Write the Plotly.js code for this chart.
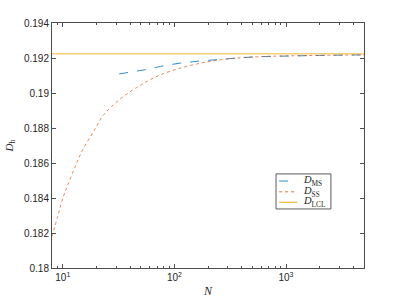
<!DOCTYPE html>
<html>
<head>
<meta charset="utf-8">
<script src="https://cdn.plot.ly/plotly-3.0.1.min.js"></script>
<style>html,body{margin:0;padding:0;background:#fff;}#chart{width:402px;height:301px;}</style>
</head>
<body>
<div id="chart"></div>
<script>
// Data
const N_SS = [8, 9, 10, 11, 13, 15, 19, 23, 30, 40, 50, 60, 75, 110, 170, 250, 400, 600, 1000, 2000, 5000];
const D_SS = [0.1818, 0.18295, 0.18398, 0.18470, 0.18583, 0.18673, 0.18783, 0.18872, 0.18946, 0.19007, 0.19045, 0.19075, 0.19104, 0.19140, 0.19170, 0.19188, 0.19202, 0.19208, 0.19212, 0.19215, 0.19218];
const N_MS = [32, 40, 50, 60, 75, 110, 170, 250, 400, 600, 1000, 2000, 5000];
const D_MS = [0.19109, 0.19118, 0.19127, 0.19137, 0.19152, 0.19170, 0.19183, 0.19193, 0.19202, 0.19208, 0.19212, 0.19215, 0.19218];
const N_LCL = [8, 5000];
const D_LCL = [0.19224, 0.19224];

const seriesNames = ["<i>D</i><sub>MS</sub>", "<i>D</i><sub>SS</sub>", "<i>D</i><sub>LCL</sub>"];
const seriesColors = ["#0072BD", "#D95319", "#EDB120"];
const seriesDash = ["dash", "dot", "solid"];

const yTickVals = [0.18, 0.182, 0.184, 0.186, 0.188, 0.19, 0.192, 0.194];
const yTickText = ["0.18", "0.182", "0.184", "0.186", "0.188", "0.19", "0.192", "0.194"];
const xTickVals = [10, 100, 1000];
const xTickText = ["10<sup>1</sup>", "10<sup>2</sup>", "10<sup>3</sup>"];
const xMinorVals = [];
[1, 10, 100, 1000].forEach(d => { for (let k = 2; k <= 9; k++) xMinorVals.push(d * k); });

const serif = "Liberation Serif, DejaVu Serif, serif";
const sans = "Liberation Sans, Arial, sans-serif";
const axisCol = "#4d4d4d";

const traces = [
  {x: N_MS, y: D_MS, mode: "lines", name: seriesNames[0], opacity: 0.8,
   line: {color: seriesColors[0], width: 1, dash: seriesDash[0]}},
  {x: N_SS, y: D_SS, mode: "lines", name: seriesNames[1], opacity: 0.7,
   line: {color: seriesColors[1], width: 1, dash: seriesDash[1], shape: "spline"}},
  {x: N_LCL, y: D_LCL, mode: "lines", name: seriesNames[2], opacity: 0.6,
   line: {color: seriesColors[2], width: 1.5, dash: seriesDash[2]}}
];

// Compact MATLAB-style legend box (paper coordinates of the plot area)
const legX0 = 0.718, legX1 = 0.894, legY0 = 0.241, legY1 = 0.384;
const rowY = [0.355, 0.311, 0.268];
const sampleX0 = 0.728, sampleX1 = 0.786, textX = 0.800;
const shapes = [{type: "rect", xref: "paper", yref: "paper", x0: legX0, x1: legX1, y0: legY0, y1: legY1,
  line: {color: "#5a5a5a", width: 1}, fillcolor: "#fff", layer: "above"}];
const annotations = [];
seriesNames.forEach((nm, i) => {
  shapes.push({type: "line", xref: "paper", yref: "paper", x0: sampleX0, x1: sampleX1, y0: rowY[i], y1: rowY[i],
    line: {color: seriesColors[i], width: i === 2 ? 1.3 : 1, dash: seriesDash[i]}, opacity: 0.8, layer: "above"});
  annotations.push({xref: "paper", yref: "paper", x: textX, y: rowY[i], xanchor: "left", yanchor: "middle",
    height: 10, valign: "middle", borderpad: 0,
    text: nm, showarrow: false, font: {family: serif, size: 10.5, color: "#262626"}});
});

const layout = {
  width: 402, height: 301,
  margin: {l: 52, r: 38, t: 23, b: 33},
  paper_bgcolor: "#fff", plot_bgcolor: "#fff",
  showlegend: false,
  font: {family: sans, size: 10, color: "#262626"},
  xaxis: {
    type: "log", range: [Math.log10(8), Math.log10(5000)],
    tickmode: "array", tickvals: xTickVals, ticktext: xTickText,
    ticks: "inside", ticklen: 4, tickcolor: axisCol, tickwidth: 1,
    showline: true, linecolor: axisCol, linewidth: 1, mirror: "allticks",
    showgrid: false, zeroline: false,
    minor: {tickmode: "array", tickvals: xMinorVals, ticks: "inside", ticklen: 2, tickcolor: axisCol, showgrid: false},
    tickfont: {family: sans, size: 10, color: "#262626"},
    title: {text: "<i>N</i>", font: {family: serif, size: 12, color: "#262626"}, standoff: 4}
  },
  yaxis: {
    range: [0.18, 0.194],
    tickmode: "array", tickvals: yTickVals, ticktext: yTickText,
    ticks: "inside", ticklen: 4, tickcolor: axisCol, tickwidth: 1,
    showline: true, linecolor: axisCol, linewidth: 1, mirror: "allticks",
    showgrid: false, zeroline: false,
    tickfont: {family: sans, size: 10, color: "#262626"},
    title: {text: "<i>D</i><sub>h</sub>", font: {family: serif, size: 11, color: "#262626"}, standoff: 8}
  },
  shapes: shapes,
  annotations: annotations
};

Plotly.newPlot("chart", traces, layout, {staticPlot: true, displayModeBar: false});
</script>
</body>
</html>
